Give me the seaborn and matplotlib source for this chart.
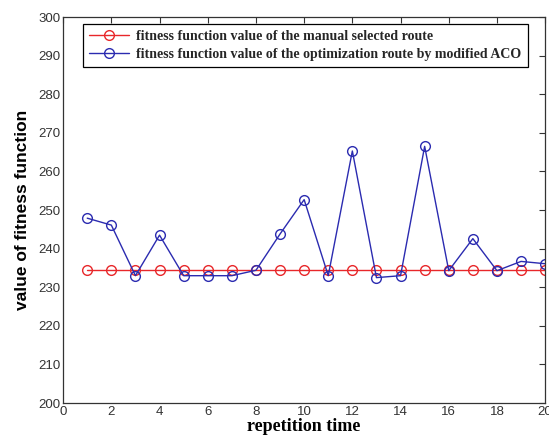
import numpy as np
import pandas as pd
import matplotlib
matplotlib.use("Agg")
import matplotlib.pyplot as plt
import seaborn as sns

repetition = list(range(1, 21))
manual_values = [234.5] * 20
aco_values = [247.9, 246.1, 233.0, 243.5, 233.0, 233.0, 233.0, 234.4, 243.8, 252.7,
              233.0, 265.3, 232.5, 233.0, 266.5, 234.3, 242.6, 234.3, 236.7, 236.1]
series_labels = ["fitness function value of the manual selected route",
                 "fitness function value of the optimization route by modified ACO"]
x_ticks = list(range(0, 21, 2))
y_ticks = list(range(200, 301, 10))

sns.set_theme(style="white")
plt.rcParams['font.family'] = ['Liberation Sans', 'DejaVu Sans']

fig = plt.figure(figsize=(5.49, 4.42), dpi=100)
ax = fig.add_axes([0.115, 0.088, 0.878, 0.8735])

df = pd.DataFrame({"x": repetition + repetition,
                   "y": manual_values + aco_values,
                   "s": [series_labels[0]] * 20 + [series_labels[1]] * 20})

for lab, col in zip(series_labels, ["#e8272a", "#2b2bb0"]):
    sub = df[df["s"] == lab]
    sns.lineplot(data=sub, x="x", y="y", ax=ax, color=col, linewidth=1.0,
                 marker="o", markersize=7, markerfacecolor="none",
                 markeredgecolor=col, markeredgewidth=1.0, label=lab)

ax.set_xlim(0, 20)
ax.set_ylim(200, 300)
ax.set_xticks(x_ticks)
ax.set_yticks(y_ticks)
ax.tick_params(direction="in", length=4, width=0.8, top=True, right=True,
               labelsize=9.5, colors="#333333", pad=2)
for sp in ax.spines.values():
    sp.set_color("#333333")
    sp.set_linewidth(0.9)

ax.set_xlabel("repetition time", fontsize=13, fontweight="bold",
              family=["Liberation Serif"], color="black", labelpad=0)
ax.set_ylabel("value of fitness function", fontsize=12.5, fontweight="bold",
              family=["Liberation Sans"], color="black", labelpad=6)

leg = ax.legend(loc="upper left", bbox_to_anchor=(0.041, 0.983), frameon=True,
                fancybox=False, edgecolor="black", framealpha=1,
                prop={"family": "Liberation Serif", "weight": "bold", "size": 10},
                handlelength=2.9, borderpad=0.45, labelspacing=0.35, handletextpad=0.5,
                borderaxespad=0)
leg.get_frame().set_linewidth(0.9)

fig.savefig("out.png", dpi=100)
